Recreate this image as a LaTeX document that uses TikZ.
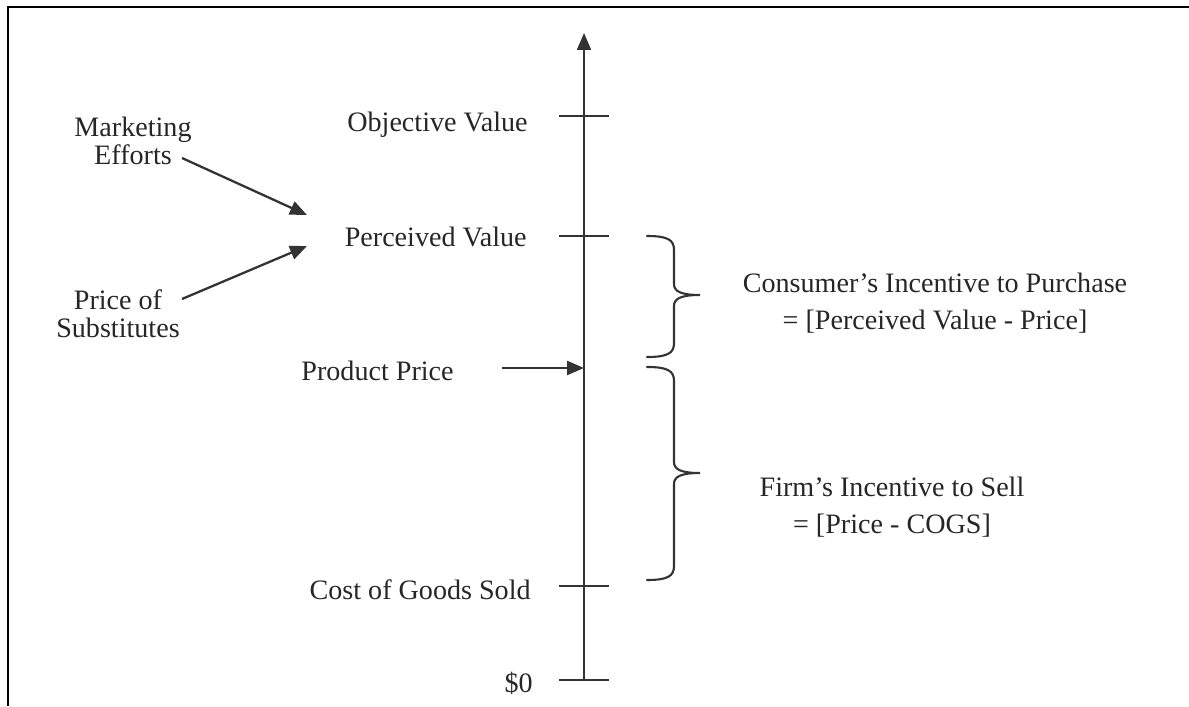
\documentclass[tikz,border=0pt]{standalone}
\usepackage{fontspec}
\setmainfont{Liberation Serif}
\usetikzlibrary{arrows.meta}

\begin{document}
\begin{tikzpicture}[
    x=0.02cm, y=-0.02cm,
    lbl/.style={font=\fontsize{16}{16}\selectfont, inner sep=0pt, align=center, text=black!85},
    note/.style={font=\fontsize{16}{21}\selectfont, inner sep=0pt, align=center, text=black!85},
    tick/.style={draw=black!80, line width=1.1pt},
    arrow/.style={-{Triangle[length=0.34cm, width=0.28cm]}, draw=black!80, fill=black!80, line width=1.3pt},
    bracepath/.style={draw=black!80, line width=1.2pt, line cap=round}
]
\useasboundingbox (0,0) rectangle (1189,706);

% frame (top and left edges only)
\draw[line width=1.6pt] (8,706) -- (8,7) -- (1189,7);

% value axis
\coordinate (zero) at (584,680);
\coordinate (top) at (584,33);
\draw[arrow, line width=1.1pt] (zero) -- (top);
\foreach \ty in {116,236,586,680}
  \draw[tick] (559,\ty) -- (609,\ty);

% axis labels
\node[lbl, anchor=east] (objective) at (528,125) {Objective Value};
\node[lbl, anchor=east] (perceived) at (527,237) {Perceived Value};
\node[lbl, anchor=east] (price) at (454,371) {Product Price};
\node[lbl, anchor=east] (cogs) at (531,590) {Cost of Goods Sold};
\node[lbl, anchor=east] (zerolbl) at (533,683) {\$0};

% influences on perceived value
\node[lbl] (marketing) at (133,141) {Marketing\\Efforts};
\node[lbl] (substitutes) at (118,314) {Price of\\Substitutes};
\coordinate (mkt-out) at (182,158);
\coordinate (sub-out) at (182,299);
\coordinate (pv-in1) at (307,215);
\coordinate (pv-in2) at (307,246);
\draw[arrow] (mkt-out) -- (pv-in1);
\draw[arrow] (sub-out) -- (pv-in2);

% price marker
\coordinate (price-out) at (502,368);
\coordinate (price-in) at (584,368);
\draw[arrow] (price-out) -- (price-in);

% braces
\draw[bracepath] (647,236) .. controls (668,236) and (674,240) .. (674,250)
  -- (674,284) .. controls (674,291) and (680,295) .. (700,295)
  .. controls (680,295) and (674,299) .. (674,306)
  -- (674,343) .. controls (674,353) and (668,357) .. (647,357);
\draw[bracepath] (647,367) .. controls (668,367) and (674,371) .. (674,381)
  -- (674,462) .. controls (674,469) and (680,473) .. (700,473)
  .. controls (680,473) and (674,477) .. (674,484)
  -- (674,566) .. controls (674,576) and (668,580) .. (647,580);

% incentives
\node[note] (consumer) at (935,303) {Consumer's Incentive to Purchase\\= [Perceived Value - Price]};
\node[note] (firm) at (892,507) {Firm's Incentive to Sell\\= [Price - COGS]};

\end{tikzpicture}
\end{document}
